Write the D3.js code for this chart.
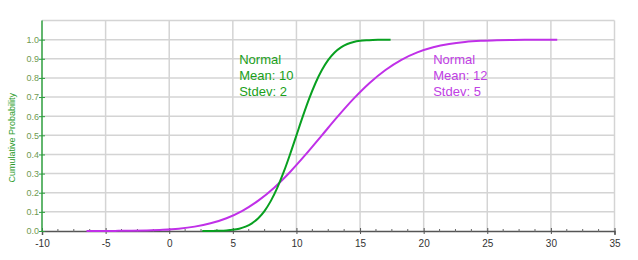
<!DOCTYPE html>
<html><head><meta charset="utf-8">
<script src="https://cdn.jsdelivr.net/npm/d3@7"></script>
<style>body{margin:0;background:#fff}svg{display:block;font-family:Arial,"Liberation Sans",sans-serif}</style>
</head><body>
<svg id="c" width="638" height="260"></svg>
<script>
// Data
const xTicks = [-10, -5, 0, 5, 10, 15, 20, 25, 30, 35];
const yTicks = [0.0, 0.1, 0.2, 0.3, 0.4, 0.5, 0.6, 0.7, 0.8, 0.9, 1.0];
const yTitle = "Cumulative Probability";

const greenX = [2.6, 3.0, 3.5, 4.0, 4.5, 5.0, 5.5, 6.0, 6.5, 7.0, 7.5, 8.0, 8.5, 9.0, 9.5, 10.0, 10.5, 11.0, 11.5, 12.0, 12.5, 13.0, 13.5, 14.0, 14.5, 15.0, 15.5, 16.0, 16.5, 17.0, 17.4];
const greenY = [0.0001, 0.0002, 0.0006, 0.0013, 0.0030, 0.0062, 0.0122, 0.0228, 0.0401, 0.0668, 0.1056, 0.1587, 0.2266, 0.3085, 0.4013, 0.5, 0.5987, 0.6915, 0.7734, 0.8413, 0.8944, 0.9332, 0.9599, 0.9772, 0.9878, 0.9938, 0.9970, 0.9987, 0.9994, 0.9998, 0.9999];

const purpleX = [-6.5, -5.5, -4.25, -3.0, -1.75, -0.5, 0.75, 2.0, 3.25, 4.5, 5.75, 7.0, 8.25, 9.5, 10.75, 12.0, 13.25, 14.5, 15.75, 17.0, 18.25, 19.5, 20.75, 22.0, 23.25, 24.5, 25.75, 27.0, 28.25, 29.5, 30.5];
const purpleY = [0.0001, 0.0002, 0.0006, 0.0013, 0.0030, 0.0062, 0.0122, 0.0228, 0.0401, 0.0668, 0.1056, 0.1587, 0.2266, 0.3085, 0.4013, 0.5, 0.5987, 0.6915, 0.7734, 0.8413, 0.8944, 0.9332, 0.9599, 0.9772, 0.9878, 0.9938, 0.9970, 0.9987, 0.9994, 0.9998, 0.9999];

const greenLabel = ["Normal", "Mean: 10", "Stdev: 2"];
const purpleLabel = ["Normal", "Mean: 12", "Stdev: 5"];
const labelPos = [{x: 5.5, y: 0.874}, {x: 20.75, y: 0.874}];

const svg = d3.select("#c");
const x = d3.scaleLinear().domain([-10, 35]).range([42, 614.5]);
const y = d3.scaleLinear().domain([0, 1.1]).range([231, 20.5]);

// grid
const grid = svg.append("g");
grid.selectAll(".vg").data(xTicks.slice(1)).join("line")
  .attr("x1", d => x(d)).attr("x2", d => x(d)).attr("y1", y(0)).attr("y2", y(1.1))
  .attr("stroke", "#d4d4d4").attr("stroke-width", 1.5);
grid.selectAll(".hg").data(yTicks.slice(1).concat([1.1])).join("line")
  .attr("x1", x(-10)).attr("x2", x(35)).attr("y1", d => y(d)).attr("y2", d => y(d))
  .attr("stroke", "#d4d4d4").attr("stroke-width", 1.5);

// x axis
const xAxis = svg.append("g").attr("transform", `translate(0,${y(0)})`)
  .call(d3.axisBottom(x).tickValues(xTicks).tickSize(4).tickFormat(d => String(d)));
xAxis.select(".domain").attr("stroke", "#555").attr("stroke-width", 1.5);
xAxis.selectAll(".tick line").attr("stroke", "#555").attr("y1", -3).attr("y2", 3);
xAxis.selectAll("text").attr("fill", "#333").attr("font-size", 10).attr("dy", "0.9em");
const minor = d3.range(-10, 35.01, 1.25).filter(v => Math.abs(v / 5 - Math.round(v / 5)) > 1e-6);
svg.append("g").selectAll("line").data(minor).join("line")
  .attr("x1", d => x(d)).attr("x2", d => x(d)).attr("y1", y(0) - 2).attr("y2", y(0) + 1)
  .attr("stroke", "#666").attr("stroke-width", 1);

// y axis
const yAxis = svg.append("g").attr("transform", `translate(${x(-10)},0)`)
  .call(d3.axisLeft(y).tickValues(yTicks).tickSize(3).tickFormat(d3.format(".1f")));
yAxis.select(".domain").remove();
svg.append("line").attr("x1", x(-10)).attr("x2", x(-10)).attr("y1", y(0)).attr("y2", y(1.1))
  .attr("stroke", "#2e9e3e").attr("stroke-width", 1.5);
yAxis.selectAll(".tick line").attr("stroke", "#2e9e3e").attr("x1", 3).attr("x2", -3);
yAxis.selectAll("text").attr("fill", "#6f9a50").attr("font-size", 9).attr("x", -3);

svg.append("text").attr("transform", `translate(15,${(y(0) + y(1.1)) / 2 + 12}) rotate(-90)`)
  .attr("text-anchor", "middle").attr("fill", "#2a9a2a").attr("font-size", 9).text(yTitle);

// curves
const line = d3.line().x(d => x(d[0])).y(d => y(d[1])).curve(d3.curveMonotoneX);
svg.append("path").datum(purpleX.map((v, i) => [v, purpleY[i]]))
  .attr("d", line).attr("fill", "none").attr("stroke", "#c030e8").attr("stroke-width", 2);
svg.append("path").datum(greenX.map((v, i) => [v, greenY[i]]))
  .attr("d", line).attr("fill", "none").attr("stroke", "#08a020").attr("stroke-width", 2);

// labels
[[greenLabel, "#1aa01a", labelPos[0]], [purpleLabel, "#c040e4", labelPos[1]]].forEach(([lines, col, p]) => {
  const t = svg.append("text").attr("x", x(p.x)).attr("y", y(p.y)).attr("fill", col).attr("font-size", 13);
  lines.forEach((s, i) => t.append("tspan").attr("x", x(p.x)).attr("dy", i ? 16.3 : 0).text(s));
});
</script>
</body></html>
